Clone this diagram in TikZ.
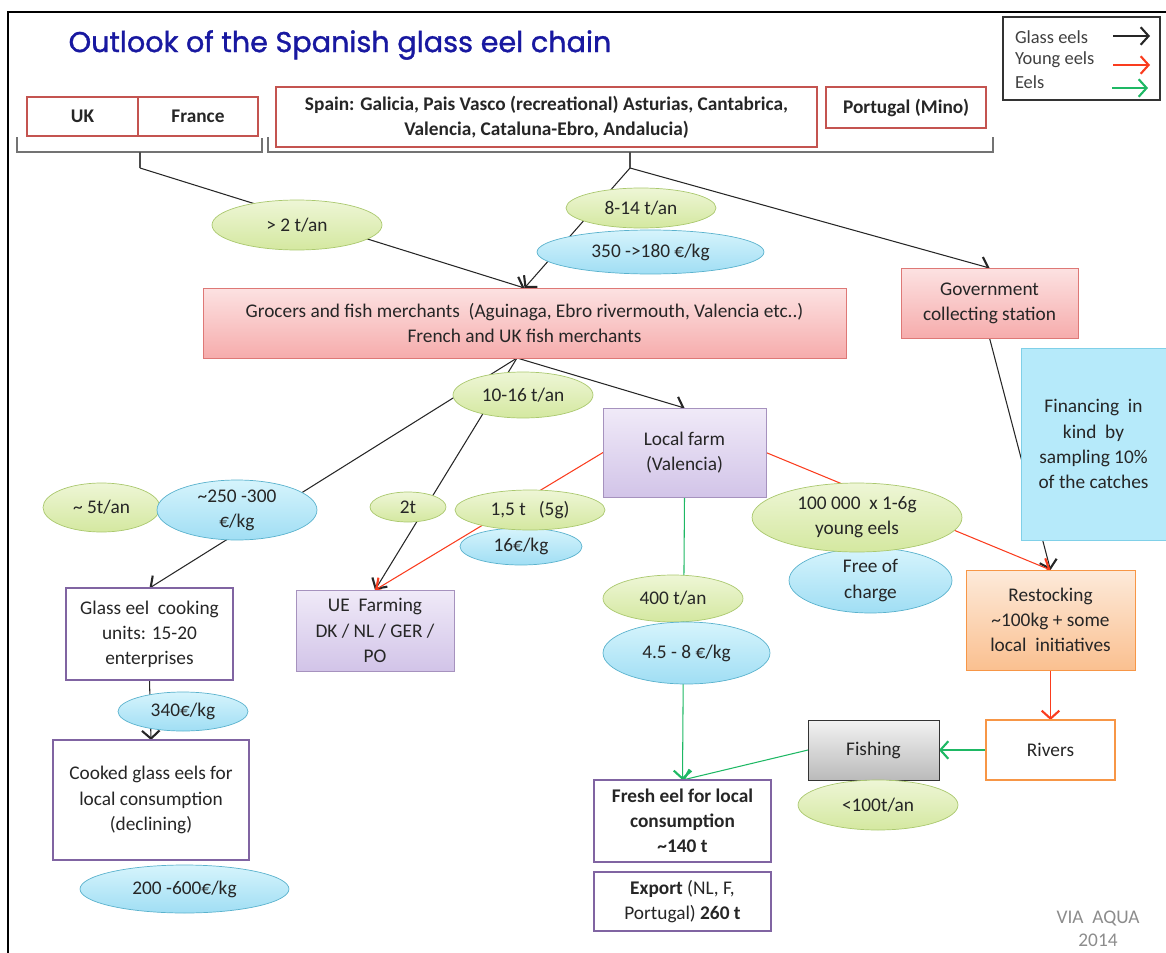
\documentclass[tikz,border=0pt]{standalone}
\usepackage{fontspec}
\setmainfont{Carlito}
\newfontfamily\titlefont[FakeBold=1.2]{Poppins}
\usetikzlibrary{shapes, arrows.meta}
\pgfdeclarelayer{bg}
\pgfsetlayers{bg,main}
\definecolor{ctryred}{RGB}{196,84,80}
\definecolor{titleblue}{RGB}{24,24,160}
\definecolor{grnline}{RGB}{170,200,110}
\definecolor{grntop}{RGB}{238,246,214}
\definecolor{grnbot}{RGB}{212,232,160}
\definecolor{bluline}{RGB}{90,178,205}
\definecolor{blutop}{RGB}{214,244,252}
\definecolor{blubot}{RGB}{160,222,244}
\definecolor{pinkline}{RGB}{222,120,118}
\definecolor{pinktop}{RGB}{252,226,226}
\definecolor{pinkbot}{RGB}{246,172,172}
\definecolor{purpline}{RGB}{128,100,162}
\definecolor{purptop}{RGB}{240,234,248}
\definecolor{purpbot}{RGB}{210,196,232}
\definecolor{orgline}{RGB}{247,150,70}
\definecolor{orgtop}{RGB}{253,234,218}
\definecolor{orgbot}{RGB}{250,192,144}
\definecolor{finfill}{RGB}{182,234,250}
\definecolor{finline}{RGB}{128,208,232}
\definecolor{yred}{RGB}{250,60,30}
\definecolor{egreen}{RGB}{30,184,100}
\definecolor{txt}{RGB}{38,38,38}
\tikzset{
	every node/.style={font=\fontsize{11}{14.3}\selectfont, text=txt, align=center, inner sep=0pt, outer sep=0pt},
	ctry/.style={
		draw=ctryred,
		line width=1.3pt,
		fill=white,
		font=\fontsize{11}{14.3}\selectfont\bfseries
	},
	pinkbox/.style={
		draw=pinkline,
		top color=pinktop,
		bottom color=pinkbot
	},
	purpbox/.style={
		draw=purpline!70,
		top color=purptop,
		bottom color=purpbot
	},
	whitebox/.style={
		draw=purpline,
		line width=1.4pt,
		fill=white
	},
	grnell/.style={
		ellipse,
		draw=grnline,
		top color=grntop,
		bottom color=grnbot
	},
	bluell/.style={
		ellipse,
		draw=bluline,
		top color=blutop,
		bottom color=blubot
	},
	glass/.style={
		draw=black!85,
		line width=0.6pt,
		-{Straight Barb[length=4.5pt,width=10pt,line width=1.2pt]}
	},
	young/.style={
		glass,
		draw=yred
	},
	eel/.style={
		glass,
		draw=egreen
	}
}

\begin{document}
\begin{tikzpicture}[x=0.02cm, y=-0.02cm]
	\useasboundingbox (0,0) rectangle (1166,953);
	\draw [line width=1.1pt] (1166,12) -- (8,12) -- (8,953);

	\node (title) at (340,45) {\titlefont\fontsize{16.3}{20}\selectfont\color{titleblue}Outlook of the Spanish glass eel chain};

	% legend
	\node [draw=black!80, line width=0.8pt, minimum width=3.14cm, minimum height=1.66cm] (legend) at (1081.5,58.5) {};
	\node [anchor=west, text=black!75, font=\fontsize{10.5}{13}\selectfont] (lglass) at (1015,37) {Glass eels};
	\node [anchor=west, text=black!75, font=\fontsize{10.5}{13}\selectfont] (lyoung) at (1015,60) {Young eels};
	\node [anchor=west, text=black!75, font=\fontsize{10.5}{13}\selectfont] (leel) at (1015,82) {Eels};
	\coordinate (lg1) at (1113,36);
	\coordinate (lg2) at (1150,36);
	\coordinate (ly1) at (1113,65);
	\coordinate (ly2) at (1150,65);
	\coordinate (le1) at (1112,88);
	\coordinate (le2) at (1148,88);
	\draw [glass] (lg1) -- (lg2);
	\draw [young] (ly1) -- (ly2);
	\draw [eel] (le1) -- (le2);

	% origins
	\node [ctry, minimum width=2.22cm, minimum height=0.78cm] (uk) at (82.5,116.5) {UK};
	\node [ctry, minimum width=2.4cm, minimum height=0.78cm] (france) at (198,116.5) {France};
	\node [ctry, minimum width=10.82cm, minimum height=1.2cm] (spain) at (546.5,117) {Spain: Galicia, Pais Vasco (recreational) Asturias, Cantabrica,\\Valencia, Cataluna-Ebro, Andalucia)};
	\node [ctry, minimum width=3.2cm, minimum height=0.82cm] (portugal) at (906,107.5) {Portugal (Mino)};

	\coordinate (ukfr) at (140,168);
	\coordinate (spn) at (630,168);
	\draw [black!55, line width=0.6pt] (17,137) -- (17,152) -- (262,152) -- (262,138);
	\draw [black!55, line width=0.6pt] (268,137) -- (268,152) -- (993,152) -- (993,137);
	\draw [black!70, line width=0.6pt] (140,152) -- (ukfr);
	\draw [black!70, line width=0.6pt] (630,152) -- (spn);

	% traders
	\node [pinkbox, minimum width=12.86cm, minimum height=1.4cm] (grocers) at (524.5,323) {Grocers and fish merchants\ \ (Aguinaga, Ebro rivermouth, Valencia etc..)\\French and UK fish merchants};
	\node [pinkbox, minimum width=3.54cm, minimum height=1.4cm] (gov) at (989.5,303) {Government\\collecting station};
	\coordinate (split) at (517,358);

	\node [grnell, minimum width=3.4cm, minimum height=1cm] (t2) at (297,225) {> 2 t/an};
	\node [grnell, minimum width=3cm, minimum height=0.8cm] (t814) at (641,208) {8-14 t/an};
	\node [bluell, minimum width=4.54cm, minimum height=0.88cm] (p350) at (650.5,252) {350 ->180 €/kg};

	\node [grnell, minimum width=2.8cm, minimum height=0.92cm] (t1016) at (523,395) {10-16 t/an};
	\node [purpbox, minimum width=3.26cm, minimum height=1.78cm] (farm) at (684.5,452.5) {Local farm\\(Valencia)};

	\node [grnell, minimum width=2.34cm, minimum height=0.98cm] (t5) at (101.5,507.5) {\textasciitilde\ 5t/an};
	\node [bluell, minimum width=3.2cm, minimum height=1.2cm] (p250) at (237,510) {\textasciitilde250 -300\\€/kg};
	\node [grnell, minimum width=1.52cm, minimum height=0.6cm] (t2t) at (408,507) {2t};
	\node [bluell, minimum width=2.44cm, minimum height=0.74cm] (p16) at (521,546.5) {16€/kg};
	\node [grnell, minimum width=3cm, minimum height=0.8cm] (t15) at (530,510) {1,5 t\ \ \ (5g)};
	\node [bluell, minimum width=3.26cm, minimum height=1.3cm] (free) at (870.5,580.5) {Free of\\charge};
	\node [grnell, minimum width=4.2cm, minimum height=1.38cm] (young) at (857,517.5) {100 000\ \ x 1-6g\\young eels};

	% outlets
	\node [whitebox, minimum width=3.34cm, minimum height=1.84cm] (cook) at (149.5,634) {Glass eel\ \ cooking\\units: 15-20\\enterprises};
	\node [purpbox, minimum width=3.16cm, minimum height=1.62cm] (ue) at (375,630.5) {UE\ \ Farming\\DK / NL / GER /\\PO};
	\node [grnell, minimum width=2.8cm, minimum height=0.94cm] (t400) at (673,598.5) {400 t/an};
	\node [bluell, minimum width=3.34cm, minimum height=1.24cm] (p45) at (686.5,653) {4.5 - 8 €/kg};
	\node [bluell, minimum width=2.6cm, minimum height=0.78cm] (p340) at (183,711.5) {340€/kg};
	\node [whitebox, minimum width=3.92cm, minimum height=2.4cm] (cooked) at (151,800) {Cooked glass eels for\\local consumption\\(declining)};
	\node [bluell, minimum width=4.18cm, minimum height=0.96cm] (p200) at (184.5,889) {200 -600€/kg};
	\node [whitebox, minimum width=3.54cm, minimum height=1.64cm, font=\fontsize{11}{14.3}\selectfont\bfseries] (fresh) at (682.5,821) {Fresh eel for local\\consumption\\\textasciitilde140 t};
	\node [whitebox, minimum width=3.54cm, minimum height=1.18cm] (export) at (682.5,901.5) {\textbf{Export} (NL, F,\\Portugal) \textbf{260 t}};

	% restocking side
	\node [draw=finline, fill=finfill, minimum width=2.9cm, minimum height=3.84cm] (fin) at (1093.5,444) {Financing\ \ in\\kind\ \ by\\sampling 10\%\\of the catches};
	\node [draw=orgline, top color=orgtop, bottom color=orgbot, minimum width=3.38cm, minimum height=2cm] (restock) at (1050.5,620) {Restocking\\\textasciitilde100kg + some\\local\ \ initiatives};
	\node [draw=orgline, line width=1.4pt, fill=white, minimum width=2.58cm, minimum height=1.2cm] (rivers) at (1050.5,750) {Rivers};
	\node [draw=black!80, top color=black!5, bottom color=black!27, minimum width=2.62cm, minimum height=1.2cm] (fishing) at (873.5,750) {Fishing};
	\node [grnell, minimum width=3.2cm, minimum height=1cm] (t100) at (878,805) {<100t/an};

	\node [text=black!45, font=\fontsize{11}{13}\selectfont] (via) at (1098,929) {VIA\ \ AQUA\\2014};

	\begin{pgfonlayer}{bg}
		\draw [glass] (ukfr) -- (grocers.north);
		\draw [glass] (spn) -- (grocers.north);
		\draw [glass] (spn) -- (gov.north);
		\draw [glass] (gov.south) -- (restock.north);
		\draw [glass] (split) -- (farm.north);
		\draw [glass] (split) -- (cook.north);
		\draw [glass] (split) -- (ue.north);
		\draw [young] (farm.west) -- (ue.north);
		\draw [young] (farm.east) -- (restock.north);
		\draw [eel] (farm.south) -- (fresh.north);
		\draw [glass] (cook.south) -- (cooked.north);
		\draw [young] (restock.south) -- (rivers.north);
		\draw [eel] (rivers.west) -- (fishing.east);
		\draw [eel] (fishing.west) -- (fresh.north);
	\end{pgfonlayer}
\end{tikzpicture}
\end{document}
